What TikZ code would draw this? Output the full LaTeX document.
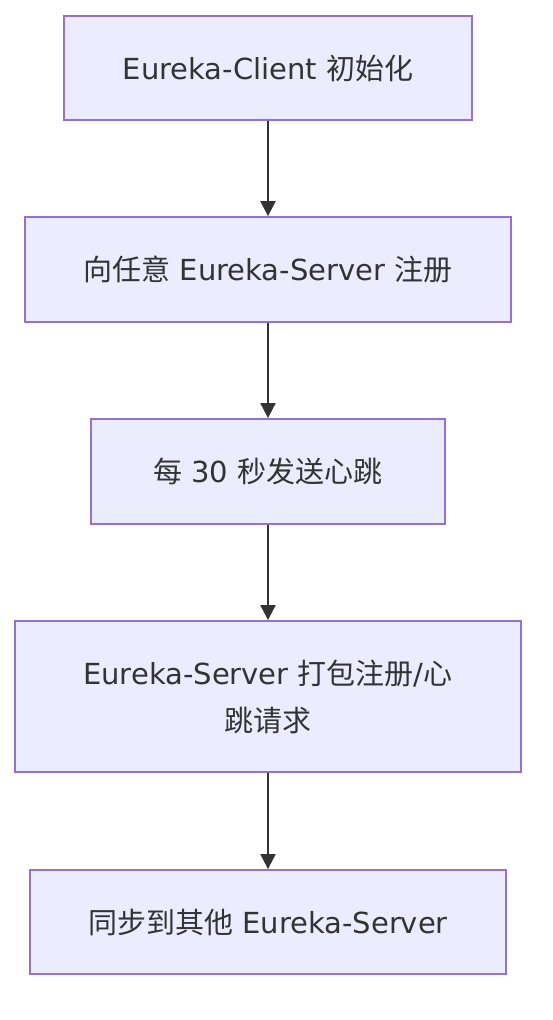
\documentclass[tikz,border=0pt]{standalone}
\usepackage{fontspec}
\setmainfont{DejaVu Sans}
\newfontfamily\cjk{Noto Sans CJK SC}
\usetikzlibrary{arrows.meta}
\definecolor{boxfill}{HTML}{ECECFF}
\definecolor{boxdraw}{HTML}{9370DB}
\definecolor{txt}{HTML}{333333}
\begin{document}
\begin{tikzpicture}[x=1pt,y=-1pt,
  box/.style={draw=boxdraw,fill=boxfill,line width=1.8pt,rectangle,inner sep=0pt,
    text=txt,align=center,font=\fontsize{29}{47}\selectfont},
  conn/.style={draw=txt,line width=2pt,-{Triangle[length=15pt,width=15pt]},shorten >=0pt}]
\useasboundingbox (0,0) rectangle (552,1020);
\node[box,minimum width=408pt,minimum height=104pt] (a) at (268,68) {Eureka-Client {\cjk 初始化}};
\node[box,minimum width=486pt,minimum height=105pt] (b) at (268,269.5) {{\cjk 向任意} Eureka-Server {\cjk 注册}};
\node[box,minimum width=354pt,minimum height=105pt] (c) at (268,471.5) {{\cjk 每} 30 {\cjk 秒发送心跳}};
\node[box,minimum width=506pt,minimum height=151pt] (d) at (268,696.5) {Eureka-Server {\cjk 打包注册}/{\cjk 心}\\{\cjk 跳请求}};
\node[box,minimum width=476pt,minimum height=104pt] (e) at (268,922) {{\cjk 同步到其他} Eureka-Server};
\draw[conn] (a) -- (b);
\draw[conn] (b) -- (c);
\draw[conn] (c) -- (d);
\draw[conn] (d) -- (e);
\end{tikzpicture}
\end{document}
